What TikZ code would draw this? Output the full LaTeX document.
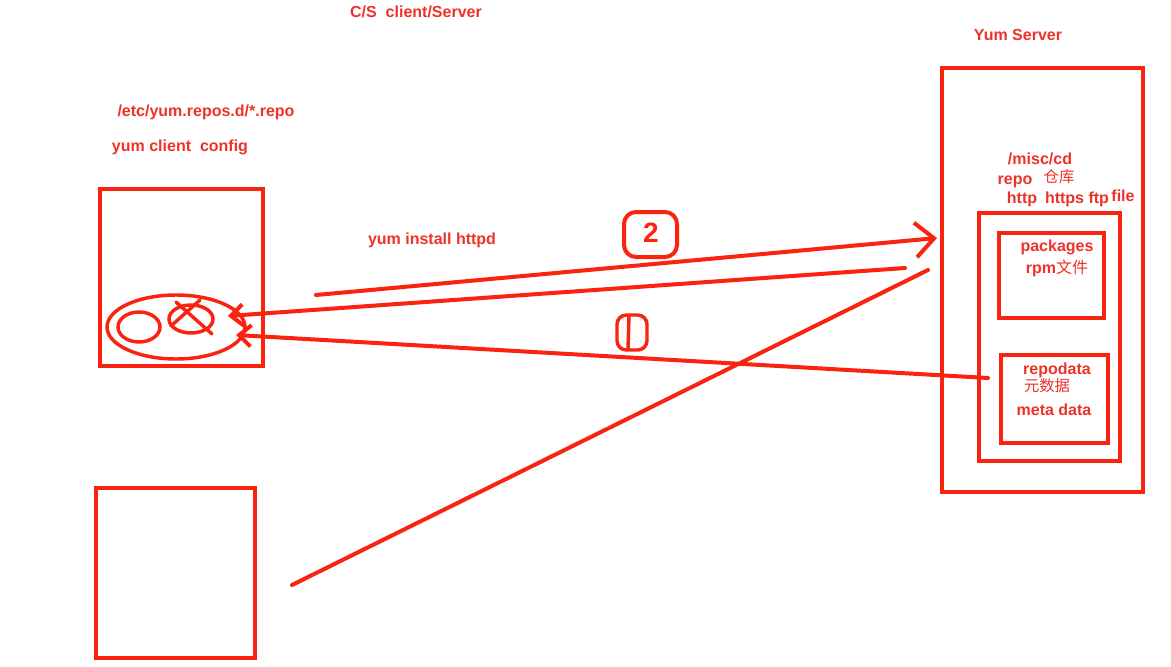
\documentclass[tikz,border=0pt]{standalone}
\usepackage{fontspec}
\setmainfont{Liberation Sans}
\newfontfamily\cjk{Noto Sans CJK SC}
\usetikzlibrary{arrows.meta}
\definecolor{lred}{RGB}{250,35,15}
\definecolor{tred}{RGB}{238,50,40}
\begin{document}
\begin{tikzpicture}[x=0.75pt,y=-0.75pt,
  box/.style={draw=lred,line width=3pt},
  lbl/.style={text=tred,font=\bfseries\fontsize{12}{14}\selectfont,inner sep=0pt},
  cn/.style={text=tred,font=\cjk\fontsize{11.5}{14}\selectfont,inner sep=0pt},
  wire/.style={draw=lred,line width=3pt,line cap=round},
  bigtip/.style={-{Straight Barb[length=14pt,width=26pt,line width=3pt]}},
  smalltip/.style={-{Straight Barb[length=9pt,width=16pt,line width=3pt]}}]
\useasboundingbox[fill=white] (0,0) rectangle (1171,667);

% boxes
\draw[box] (100,189) rectangle (263,366);
\draw[box] (96,488) rectangle (255,658);
\draw[box] (942,68) rectangle (1143,492);
\draw[box] (979,213) rectangle (1120,461);
\draw[box] (999,233) rectangle (1104,318);
\draw[box] (1001,355) rectangle (1108,443);

% client disk
\draw[box,line width=2.6pt] (176,327) ellipse [x radius=51.75pt, y radius=24pt];
\draw[box,line width=2.6pt] (139,327) ellipse [x radius=15.75pt, y radius=11.25pt];
\draw[box,line width=2.6pt] (191,319) ellipse [x radius=16.5pt, y radius=10.5pt];
\draw[wire,line width=2.6pt] (176,302) -- (212,334);
\draw[wire,line width=2.6pt] (171,326) -- (200,300);

% labels
\node[lbl] (cs) at (416,12) {C/S\ \ client/Server};
\node[lbl] (ys) at (1018,35) {Yum Server};
\node[lbl] (repof) at (206,112) {/etc/yum.repos.d/*.repo};
\node[lbl] (ycc) at (180,147) {yum client\ \ config};
\node[lbl] (yih) at (432,240) {yum install httpd};
\node[lbl] (misc) at (1040,159) {/misc/cd};
\node[lbl] (repo) at (1015,182) {repo};
\node[cn] (cangku) at (1059,177) {仓库};
\node[lbl] (http) at (1022,199) {http};
\node[lbl] (https) at (1077,199) {https ftp};
\node[lbl] (file) at (1123,196) {file};
\node[lbl] (pk) at (1057,247) {packages};
\node[lbl] (rpm) at (1057,268) {rpm{\cjk\mdseries 文件}};
\node[lbl] (rd) at (1057,370) {repodata};
\node[cn] (ysj) at (1047,386) {元数据};
\node[lbl] (md) at (1054,410) {meta data};

% step marks
\draw[box,rounded corners=9pt] (624,212) rectangle (677,257);
\node[text=lred,font=\bfseries\fontsize{21}{22}\selectfont,inner sep=0pt] (two) at (651,233) {2};
\draw[box,line width=2.6pt,rounded corners=7pt] (617,315) rectangle (647,350);
\draw[wire,line width=2.6pt] (629,316) -- (628,349);

% connectors
\coordinate (a1) at (316,295);
\coordinate (a2) at (937,238);
\coordinate (b1) at (905,268);
\coordinate (b2) at (228,316);
\coordinate (c1) at (988,378);
\coordinate (c2) at (236,335);
\coordinate (d1) at (292,585);
\coordinate (d2) at (928,270);
\draw[wire,bigtip] (a1) -- (a2);
\draw[wire,smalltip] (b1) -- (b2);
\draw[wire,smalltip] (c1) -- (c2);
\draw[wire] (d1) -- (d2);
\end{tikzpicture}
\end{document}
